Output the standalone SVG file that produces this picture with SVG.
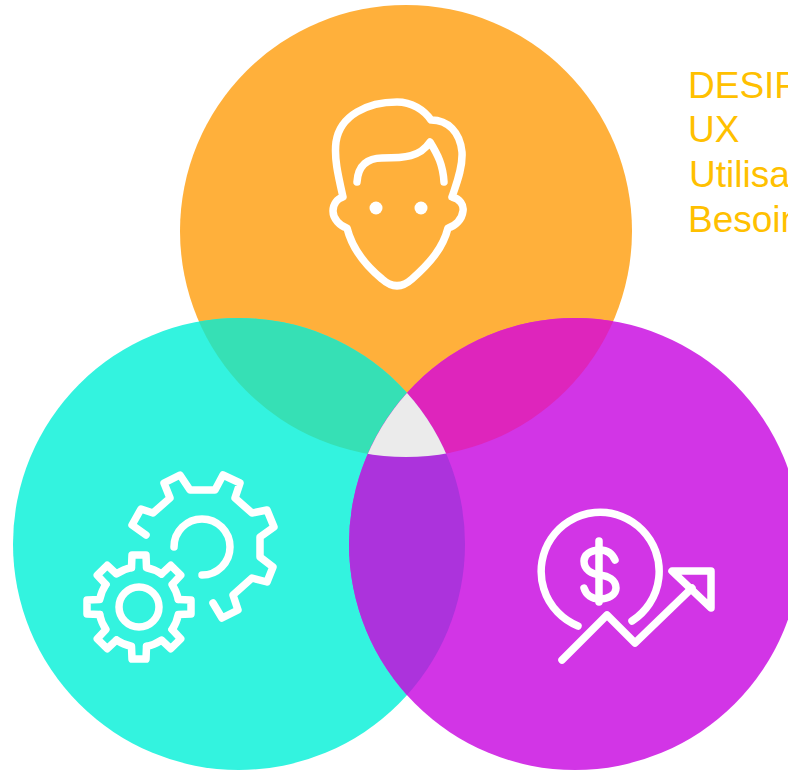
<svg xmlns="http://www.w3.org/2000/svg" xmlns:xlink="http://www.w3.org/1999/xlink" width="788" height="771" viewBox="0 0 788 771">
<style>
.icon{fill:none;stroke:#fff;stroke-width:7.5;stroke-linecap:round;stroke-linejoin:round}
.lbl{font-family:"Liberation Sans",Arial,sans-serif;font-size:37px;fill:#FFC000}
</style>
<defs>
<clipPath id="cO"><circle cx="406" cy="231" r="226"/></clipPath>
<clipPath id="cT"><circle cx="239" cy="544" r="226"/></clipPath>
<clipPath id="cP"><circle cx="575" cy="544" r="226"/></clipPath>
<path id="tooth" d="M-7.5,-39.3 L-7,-52 L7,-52 L7.5,-39.3 A40,40 0 0 1 22.4,-33.2"/>
</defs>
<rect width="788" height="771" fill="#fff"/>
<g id="circle-user"><circle cx="406" cy="231" r="226" fill="#FFB03B"/></g>
<g id="circle-tech"><circle cx="239" cy="544" r="226" fill="#33F3DF"/></g>
<g id="circle-business"><circle cx="575" cy="544" r="226" fill="#D235E6"/></g>
<g id="overlaps">
<g clip-path="url(#cO)"><circle cx="239" cy="544" r="226" fill="#36E0B5"/><circle cx="575" cy="544" r="226" fill="#DE25BC"/></g>
<g clip-path="url(#cT)"><circle cx="575" cy="544" r="226" fill="#AC33DC"/></g>
<g clip-path="url(#cO)"><g clip-path="url(#cT)"><circle cx="575" cy="544" r="226" fill="#EBEBEB"/></g></g>
</g>
<g id="icon-face" class="icon">
<path d="M343,197 C338,175 334,158 336,142 C340,115 368,102 397,102 C412,102 424,110 431,120 C448,120 460,132 462,152 C463,168 456,185 452,197 C460,199 464,205 463,211 C462,220 455,226 448,228 C443,248 430,263 412,279 C402,288 392,288 382,279 C365,265 352,248 347,228 C340,226 333,219 333,211 C333,204 337,199 343,197Z"/>
<path d="M357,182 C358,165 368,158 382,158 C405,158 420,157 430,142 C438,155 443,165 444,182"/>
<circle cx="376" cy="208" r="6.5" fill="#fff" stroke="none"/>
<circle cx="421" cy="208" r="6.5" fill="#fff" stroke="none"/>
</g>
<g id="icon-gears" class="icon">
<path d="M146,535 L132,525 L141,509 L153,513 L170,498 L164,483 L180,475 L190,490 L215,490 L223,475 L240,483 L235,498 L252,513 L267,510 L274,527 L260,537 L260,557 L273,567 L267,582 L252,578 L233,595 L238,610 L222,618 L213,603"/>
<path d="M174,547 A28,28 0 1 1 202,575"/>
<g transform="translate(139,607)">
<use xlink:href="#tooth" href="#tooth"/>
<use xlink:href="#tooth" href="#tooth" transform="rotate(45)"/>
<use xlink:href="#tooth" href="#tooth" transform="rotate(90)"/>
<use xlink:href="#tooth" href="#tooth" transform="rotate(135)"/>
<use xlink:href="#tooth" href="#tooth" transform="rotate(180)"/>
<use xlink:href="#tooth" href="#tooth" transform="rotate(225)"/>
<use xlink:href="#tooth" href="#tooth" transform="rotate(270)"/>
<use xlink:href="#tooth" href="#tooth" transform="rotate(315)"/>
<circle r="20"/>
</g>
</g>
<g id="icon-money" class="icon">
<path d="M578,626 A59,59 0 1 1 632,621"/>
<path d="M615,560 C612,553 606,550 600,550 C590,550 584,555 584,561 C584,570 592,574 600,575 C608,576 616,580 616,588 C616,595 608,599 600,599 C592,599 586,595 584,588"/>
<path d="M599,541 L599,602"/>
<path d="M562,660 L607,615 L635,643 L692,588"/>
<path d="M672,571 L711,571 L711,608Z"/>
</g>
<g id="labels">
<text class="lbl" x="688" y="98">DESIR</text>
<text class="lbl" x="688" y="142">UX</text>
<text class="lbl" x="689" y="187">Utilisa</text>
<text class="lbl" x="688" y="232">Besoin</text>
</g>
</svg>
